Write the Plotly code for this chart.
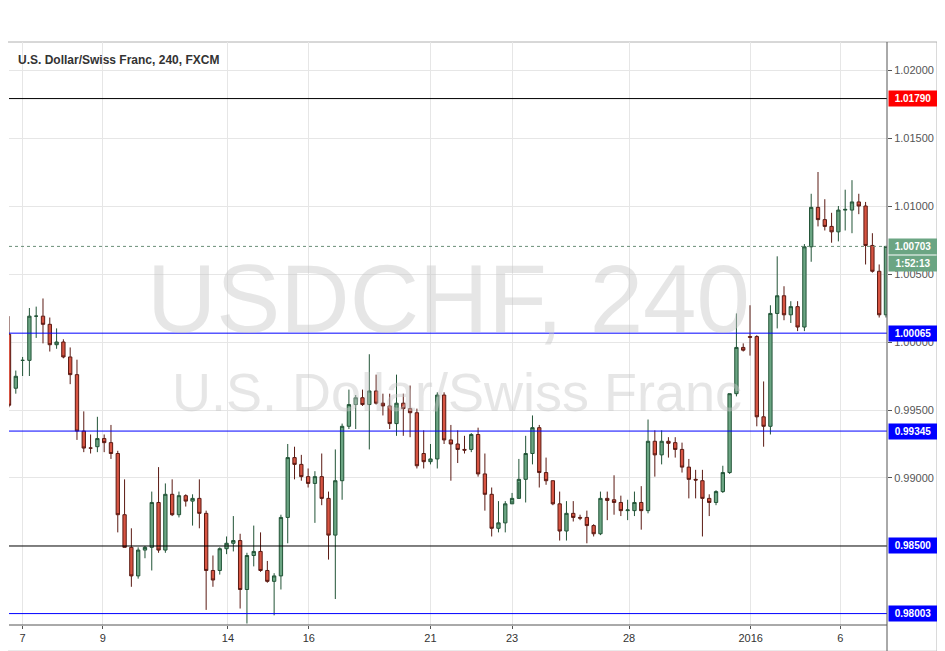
import plotly.graph_objects as go

opens = [1.00057,0.9966,0.99865,0.99865,1.0019,1.0019,1.0013,0.9998,1.0000,0.9989,0.9976,0.99345,0.9922,0.9923,0.9929,0.9926,0.9918,0.9873,0.9849,0.9828,0.9847,0.9849,0.9882,0.9847,0.9888,0.9873,0.9887,0.9883,0.9885,0.9874,0.9832,0.9832,0.9848,0.9852,0.9854,0.9818,0.9843,0.9846,0.9832,0.9824,0.9828,0.9871,0.9915,0.9910,0.9901,0.9896,0.9901,0.9885,0.9858,0.9898,0.9938,0.9954,0.9959,0.9954,0.9964,0.9955,0.9953,0.9940,0.9955,0.9951,0.9948,0.9918,0.9912,0.9914,0.9961,0.9928,0.9925,0.9921,0.9921,0.9932,0.9903,0.9888,0.9863,0.9867,0.9881,0.9885,0.9899,0.9918,0.9937,0.9904,0.9898,0.9881,0.9861,0.9874,0.9871,0.9871,0.9865,0.9859,0.9885,0.9884,0.9882,0.9876,0.9876,0.9882,0.9876,0.9927,0.9917,0.9927,0.9926,0.9921,0.9908,0.9899,0.9898,0.9885,0.9882,0.9890,0.9904,0.9962,0.9996,1.0004,1.0004,0.9945,0.9938,1.0021,1.0034,1.0020,1.0026,1.0011,1.0070,1.0099,1.0090,1.0085,1.0081,1.0097,1.0097,1.0103,1.0100,1.0071,1.0052,1.0020]
closes = [0.99535,0.99748,0.99865,1.0019,1.0019,1.0013,0.9998,1.0000,0.9989,0.9976,0.99345,0.9922,0.9922,0.9929,0.9926,0.9918,0.9873,0.9849,0.9828,0.9847,0.9849,0.9882,0.9847,0.9888,0.9873,0.9887,0.9883,0.9885,0.9874,0.9832,0.9825,0.9848,0.9852,0.9854,0.9818,0.9843,0.9846,0.9832,0.9824,0.9828,0.9871,0.9915,0.9910,0.9901,0.9896,0.9901,0.9885,0.9858,0.9898,0.9938,0.9954,0.9959,0.9954,0.9964,0.9955,0.9953,0.9940,0.9955,0.9951,0.9948,0.9909,0.9912,0.9914,0.9961,0.9928,0.9925,0.9921,0.99205,0.9932,0.9903,0.9888,0.9863,0.9867,0.9881,0.9885,0.9899,0.9918,0.9937,0.9904,0.9898,0.9881,0.9861,0.9874,0.9871,0.98705,0.9865,0.9859,0.9885,0.98835,0.9882,0.9876,0.98765,0.9882,0.9876,0.9927,0.9917,0.9927,0.99255,0.9921,0.9908,0.9899,0.98985,0.9885,0.9882,0.9890,0.9904,0.9962,0.9996,0.9994,1.00035,0.9945,0.9938,1.0021,1.0034,1.0020,1.0026,1.0011,1.0070,1.0099,1.0090,1.0085,1.0081,1.0097,1.00975,1.0103,1.0100,1.0071,1.0052,1.0020,1.00703]
highs = [1.0019,0.9979,0.9989,1.0025,1.0026,1.0032,1.0018,1.0010,1.0002,0.9996,0.9987,0.9949,0.9932,0.9945,0.9932,0.9939,0.9920,0.9899,0.9863,0.9849,0.9850,0.9890,0.9908,0.9896,0.9899,0.9890,0.9888,0.9888,0.9899,0.9876,0.9843,0.9849,0.9857,0.9872,0.9859,0.9845,0.9865,0.9860,0.9839,0.9830,0.9873,0.9925,0.9923,0.9917,0.9907,0.9905,0.9918,0.9890,0.9921,0.9940,0.9965,0.9961,0.9965,0.9991,0.9976,0.9962,0.9962,0.9976,0.9962,0.9968,0.9951,0.9935,0.9925,0.9963,0.9963,0.9939,0.9935,0.9931,0.9933,0.9937,0.9918,0.9893,0.9883,0.9883,0.9889,0.9914,0.9931,0.9946,0.9939,0.9915,0.9898,0.9890,0.9883,0.9883,0.9873,0.9876,0.9866,0.9890,0.9890,0.9902,0.9887,0.9884,0.9890,0.9894,0.9943,0.9935,0.9935,0.9930,0.9930,0.9926,0.9914,0.9906,0.9906,0.9888,0.9891,0.9909,0.9962,1.0021,0.9999,1.0027,1.0005,0.9971,1.0027,1.0063,1.0041,1.0030,1.0030,1.0072,1.0109,1.0125,1.0105,1.0095,1.0100,1.0112,1.0119,1.0109,1.0103,1.0080,1.0057,1.0070]
lows = [0.9952,0.9962,0.9975,0.9975,1.0003,0.9999,0.9993,0.9995,0.9988,0.9969,0.9928,0.9919,0.9918,0.9919,0.9919,0.9914,0.9860,0.9849,0.9820,0.9826,0.9841,0.9832,0.9845,0.9845,0.9872,0.9871,0.9879,0.9865,0.9863,0.9803,0.9820,0.9829,0.9844,0.9846,0.9804,0.9793,0.9835,0.9831,0.9823,0.9799,0.9818,0.9852,0.9899,0.9898,0.9893,0.9867,0.9880,0.9840,0.9811,0.9884,0.9936,0.9936,0.9953,0.9921,0.9954,0.9946,0.9936,0.9931,0.9931,0.9930,0.9907,0.9907,0.9910,0.9907,0.9925,0.9898,0.9911,0.9918,0.9919,0.9901,0.9876,0.9857,0.9860,0.9860,0.9883,0.9897,0.9882,0.9910,0.9893,0.9895,0.9880,0.9854,0.9854,0.9868,0.9869,0.9852,0.9857,0.9858,0.9869,0.9873,0.9872,0.9869,0.9872,0.9862,0.9874,0.9901,0.9910,0.9915,0.9915,0.9904,0.9885,0.9885,0.9857,0.9872,0.9880,0.9889,0.9903,0.9960,0.9993,0.9990,0.9938,0.9923,0.9932,1.0010,1.0016,1.0014,1.0008,1.0008,1.0059,1.0085,1.0082,1.0073,1.0074,1.0082,1.0080,1.0094,1.0057,1.0051,1.0018,1.0018]

tick_pos = [2, 13.8, 32.2, 44.1, 62, 74, 91.2, 109.1, 122.3]
tick_labels = ["7", "9", "14", "16", "21", "23", "28", "2016", "6"]
price_ticks = [0.990, 0.995, 1.000, 1.005, 1.010, 1.015, 1.020]
levels = [1.01790, 1.00065, 0.99345, 0.98500, 0.98003]
level_colors = ["#000000", "#0000ff", "#0000ff", "#000000", "#0000ff"]
label_colors = ["#ff0000", "#0000ff", "#0000ff", "#0000ff", "#0000ff"]
last_price = 1.00703
countdown = "1:52:13"

x = list(range(len(opens)))
fig = go.Figure(go.Candlestick(
    x=x, open=opens, high=highs, low=lows, close=closes,
    increasing=dict(fillcolor="#6ba583", line=dict(color="#225437", width=1)),
    decreasing=dict(fillcolor="#d75442", line=dict(color="#5b1a13", width=1)),
    whiskerwidth=0, showlegend=False, hoverinfo="skip"))

shapes = []
for lv, c in zip(levels, level_colors):
    shapes.append(dict(type="line", xref="paper", x0=0, x1=1, yref="y", y0=lv, y1=lv,
                       line=dict(color=c, width=1)))
shapes.append(dict(type="line", xref="paper", x0=0, x1=1, yref="y", y0=last_price, y1=last_price,
                   line=dict(color="#6b8f78", width=1, dash="dot")))
shapes.append(dict(type="rect", xref="paper", yref="paper", x0=-0.0035, x1=1.057, y0=-0.045, y1=1.0,
                   line=dict(color="#b0b0b0", width=1), layer="below"))
shapes.append(dict(type="line", xref="paper", yref="paper", x0=0, x1=1, y0=0, y1=0,
                   line=dict(color="#555", width=1)))
shapes.append(dict(type="line", xref="paper", yref="paper", x0=1, x1=1, y0=-0.045, y1=1,
                   line=dict(color="#555", width=1)))

box_font = dict(color="white", size=10, family="Arial")
ann = []
for lv, c in zip(levels, label_colors):
    ann.append(dict(xref="paper", x=1, xanchor="left", xshift=1, yref="y", y=lv, text=f"<b>{lv:.5f}</b>",
                    showarrow=False, bgcolor=c, font=box_font, borderpad=2, width=44))
ann.append(dict(xref="paper", x=1, xanchor="left", xshift=1, yref="y", y=last_price, text=f"<b>{last_price:.5f}</b>",
                showarrow=False, bgcolor="#6ba583", font=box_font, borderpad=2, width=44))
ann.append(dict(xref="paper", x=1, xanchor="left", xshift=1, yref="y", y=last_price, yshift=-17, text=f"<b>{countdown}</b>",
                showarrow=False, bgcolor="#6ba583", font=box_font, borderpad=2, width=44))
ann.append(dict(xref="paper", yref="paper", x=0.008, y=0.985, xanchor="left", yanchor="top",
                text="<b>U.S. Dollar/Swiss Franc, 240, FXCM</b>", showarrow=False,
                font=dict(size=12, color="#333", family="Arial")))
ann.append(dict(xref="paper", yref="paper", x=0.5, y=0.56, text="USDCHF, 240", showarrow=False,
                font=dict(size=96, color="rgba(200,200,200,0.45)", family="Arial")))
ann.append(dict(xref="paper", yref="paper", x=0.51, y=0.40, text="U.S. Dollar/Swiss Franc", showarrow=False,
                font=dict(size=54, color="rgba(200,200,200,0.45)", family="Arial")))

fig.update_layout(
    width=945, height=651, margin=dict(l=1, r=66, t=34, b=34),
    paper_bgcolor="white", plot_bgcolor="white",
    shapes=shapes, annotations=ann,
    xaxis=dict(range=[0, 129.15], tickvals=tick_pos, ticktext=tick_labels, showgrid=True,
               gridcolor="#e6e6e6", rangeslider=dict(visible=False), zeroline=False,
               tickfont=dict(size=11, color="#333", family="Arial"), ticks="outside", ticklen=3, tickcolor="#555"),
    yaxis=dict(side="right", range=[0.97919, 1.02206], tickvals=price_ticks,
               ticktext=[f"{v:.5f}" for v in price_ticks], showgrid=True, gridcolor="#e6e6e6",
               zeroline=False, tickfont=dict(size=11, color="#555", family="Arial"),
               ticks="outside", ticklen=4, tickcolor="#555"),
)
fig.write_html("out.html")
